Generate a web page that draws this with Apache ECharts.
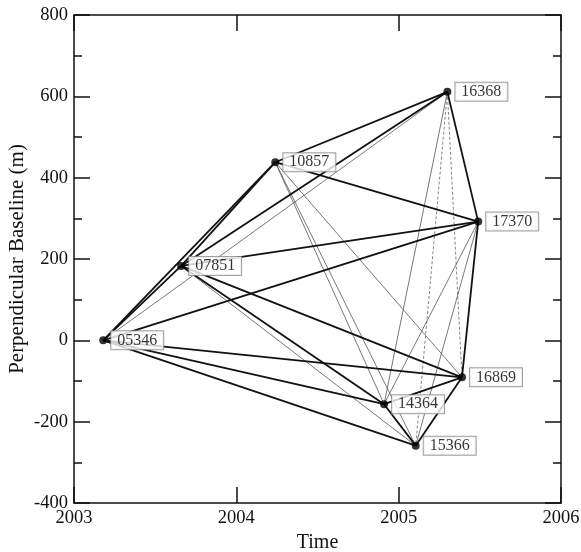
<!DOCTYPE html>
<html>
<head>
<meta charset="utf-8">
<script src="https://cdn.jsdelivr.net/npm/echarts@6/dist/echarts.min.js"></script>
<style>
  html, body { margin: 0; padding: 0; background: #fff; }
  #chart { width: 581px; height: 552px; }
</style>
</head>
<body>
<div id="chart"></div>
<script>
// Acquisitions: orbit id, acquisition time (decimal year), perpendicular baseline (m)
const names = ['05346', '07851', '10857', '14364', '15366', '16368', '16869', '17370'];
const times = [2003.18, 2003.66, 2004.24, 2004.91, 2005.105, 2005.30, 2005.39, 2005.49];
const baselines = [0, 183, 438, -157, -259, 611, -91, 292];

// Interferometric pairs, grouped by how they are drawn
const thickPairs = [
  ['05346', '07851'], ['05346', '10857'], ['07851', '10857'],
  ['05346', '17370'], ['05346', '16869'], ['05346', '14364'], ['05346', '15366'],
  ['07851', '16368'], ['07851', '17370'], ['07851', '16869'], ['07851', '14364'],
  ['10857', '16368'], ['10857', '17370'], ['16368', '17370'], ['17370', '16869'],
  ['16869', '14364'], ['16869', '15366'], ['14364', '15366']
];
const thinPairs = [
  ['05346', '16368'], ['07851', '15366'], ['10857', '14364'], ['10857', '15366'],
  ['10857', '16869'], ['17370', '14364'], ['17370', '15366'], ['16368', '14364']
];
const dashedPairs = [
  ['16368', '15366'], ['16368', '16869']
];

// Axis ticks
const xTicks = [2003, 2004, 2005, 2006];
const yTicks = [-400, -200, 0, 200, 400, 600, 800];

const serif = '"Liberation Serif", "DejaVu Serif", serif';
const ink = '#111';

function point(name) {
  const i = names.indexOf(name);
  return [times[i], baselines[i]];
}
function pairData(pairs) {
  return pairs.map(p => ({ coords: [point(p[0]), point(p[1])] }));
}

const chart = echarts.init(document.getElementById('chart'), null, { renderer: 'canvas' });

const tickInside = (len) => ({ show: true, inside: true, length: len, lineStyle: { color: ink, width: 1.5 } });

chart.setOption({
  animation: false,
  backgroundColor: '#ffffff',
  grid: { left: 74, right: 20, top: 15, bottom: 49, containLabel: false, outerBoundsMode: 'none' },
  xAxis: [
    {
      type: 'value', position: 'bottom',
      min: xTicks[0], max: xTicks[xTicks.length - 1], interval: 1,
      name: 'Time', nameLocation: 'middle', nameGap: 30, nameMoveOverlap: false,
      nameTextStyle: { fontFamily: serif, fontSize: 20, color: ink },
      axisLine: { show: true, onZero: false, lineStyle: { color: ink, width: 1.5 } },
      axisTick: tickInside(16),
      axisLabel: { fontFamily: serif, fontSize: 18.5, color: ink, margin: 6,
                   formatter: v => String(v), showMinLabel: true, showMaxLabel: true },
      splitLine: { show: false }
    },
    {
      type: 'value', position: 'top',
      min: xTicks[0], max: xTicks[xTicks.length - 1], interval: 1,
      axisLine: { show: true, onZero: false, lineStyle: { color: ink, width: 1.5 } },
      axisTick: tickInside(16),
      axisLabel: { show: false },
      splitLine: { show: false }
    }
  ],
  yAxis: [
    {
      type: 'value', position: 'left',
      min: yTicks[0], max: yTicks[yTicks.length - 1], interval: 200,
      name: 'Perpendicular Baseline (m)', nameLocation: 'middle', nameGap: 46, nameMoveOverlap: false,
      nameTextStyle: { fontFamily: serif, fontSize: 21, color: ink },
      axisLine: { show: true, onZero: false, lineStyle: { color: ink, width: 1.5 } },
      axisTick: tickInside(16),
      minorTick: { show: true, splitNumber: 2, length: 8, lineStyle: { color: ink, width: 1.5 } },
      axisLabel: { fontFamily: serif, fontSize: 18.5, color: ink, margin: 6 },
      splitLine: { show: false }, minorSplitLine: { show: false }
    },
    {
      type: 'value', position: 'right',
      min: yTicks[0], max: yTicks[yTicks.length - 1], interval: 200,
      axisLine: { show: true, onZero: false, lineStyle: { color: ink, width: 1.5 } },
      axisTick: tickInside(16),
      minorTick: { show: true, splitNumber: 2, length: 8, lineStyle: { color: ink, width: 1.5 } },
      axisLabel: { show: false },
      splitLine: { show: false }, minorSplitLine: { show: false }
    }
  ],
  series: [
    {
      type: 'lines', coordinateSystem: 'cartesian2d', xAxisIndex: 0, yAxisIndex: 0,
      data: pairData(dashedPairs), z: 2,
      lineStyle: { color: '#666', width: 0.8, type: [3, 2], opacity: 1 }
    },
    {
      type: 'lines', coordinateSystem: 'cartesian2d', xAxisIndex: 0, yAxisIndex: 0,
      data: pairData(thinPairs), z: 3,
      lineStyle: { color: '#555', width: 0.8, opacity: 1 }
    },
    {
      type: 'lines', coordinateSystem: 'cartesian2d', xAxisIndex: 0, yAxisIndex: 0,
      data: pairData(thickPairs), z: 4,
      lineStyle: { color: '#111', width: 1.8, opacity: 1 }
    },
    {
      type: 'scatter', xAxisIndex: 0, yAxisIndex: 0, z: 5,
      symbol: 'circle', symbolSize: 8,
      itemStyle: { color: '#000' },
      data: names.map((n, i) => ({ name: n, value: [times[i], baselines[i]] })),
      label: {
        show: true, position: 'right', distance: 4,
        formatter: p => p.name,
        fontFamily: serif, fontSize: 16, color: '#000', lineHeight: 16,
        backgroundColor: '#fff', borderColor: '#8a8a8a', borderWidth: 1,
        padding: [1, 6, 1, 6]
      },
      emphasis: { disabled: true }
    }
  ]
});
</script>
</body>
</html>
